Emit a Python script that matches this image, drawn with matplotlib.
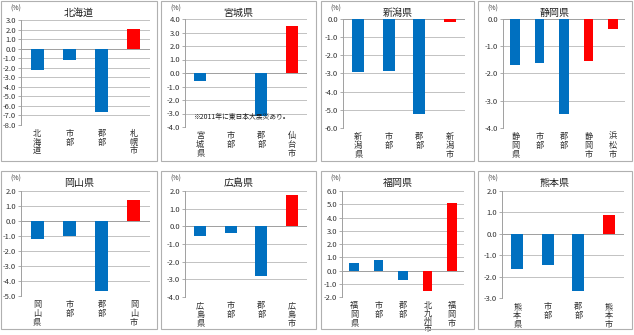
import numpy as np
import matplotlib.pyplot as plt
from matplotlib.patches import Rectangle
from matplotlib.transforms import blended_transform_factory

plt.rcParams['font.family'] = ['Noto Sans CJK JP', 'DejaVu Sans']

# Population change by area (%)
titles = ['北海道', '宮城県', '新潟県', '静岡県', '岡山県', '広島県', '福岡県', '熊本県']
categories = [
    ['北海道', '市部', '郡部', '札幌市'],
    ['宮城県', '市部', '郡部', '仙台市'],
    ['新潟県', '市部', '郡部', '新潟市'],
    ['静岡県', '市部', '郡部', '静岡市', '浜松市'],
    ['岡山県', '市部', '郡部', '岡山市'],
    ['広島県', '市部', '郡部', '広島市'],
    ['福岡県', '市部', '郡部', '北九州市', '福岡市'],
    ['熊本県', '市部', '郡部', '熊本市'],
]
values = [
    [-2.2, -1.2, -6.6, 2.1],
    [-0.6, 0.0, -3.2, 3.5],
    [-2.9, -2.85, -5.25, -0.15],
    [-1.7, -1.6, -3.5, -1.55, -0.35],
    [-1.2, -1.0, -4.65, 1.4],
    [-0.55, -0.4, -2.8, 1.75],
    [0.55, 0.8, -0.7, -1.55, 5.1],
    [-1.65, -1.45, -2.65, 0.9],
]
y_ranges = [(-8, 3), (-4, 4), (-6, 0), (-4, 0), (-5, 2), (-4, 2), (-2, 6), (-3, 2)]
note = '※2011年に東日本大震災あり。'

W, H = 634, 335
BLUE = '#0070C0'
RED = '#FF0000'
GRID = '#b8b8b8'

# panel frames and plot areas in pixels (left, top, right, bottom)
frames = [(1, 1, 157, 161), (161, 1, 316, 161), (321, 1, 474, 161), (478, 1, 632, 161),
          (1, 171, 157, 329), (161, 171, 316, 329), (321, 171, 474, 329), (478, 171, 632, 329)]
areas = [(21, 20, 150, 125), (185, 19, 307, 127), (343, 19, 465, 128), (503, 19, 625, 128),
         (21, 191, 150, 296), (185, 191, 307, 297), (342, 191, 464, 297), (502, 191, 624, 298)]

fig = plt.figure(figsize=(W / 100, H / 100), dpi=100)
fig.patch.set_facecolor('white')

def to_fig(box):
    l, t, r, b = box
    return [l / W, 1 - b / H, (r - l) / W, (b - t) / H]

for k in range(8):
    fl, ft, fr, fb = frames[k]
    fig.patches.append(Rectangle((fl / W, 1 - fb / H), (fr - fl) / W, (fb - ft) / H,
                                 transform=fig.transFigure, fill=False,
                                 edgecolor='#b0b0b0', lw=0.8))

    ax = fig.add_axes(to_fig(areas[k]))
    cats = categories[k]
    vals = values[k]
    x = np.arange(len(cats))
    colors = [RED if c.endswith('市') and c != '市部' else BLUE for c in cats]
    ax.bar(x, vals, width=0.4, color=colors, zorder=3)

    lo, hi = y_ranges[k]
    ax.set_ylim(lo, hi)
    ax.set_xlim(-0.5, len(cats) - 0.5)
    ticks = np.arange(lo, hi + 0.5, 1)
    ax.set_yticks(ticks)
    ax.set_yticklabels([f'{t:.1f}' for t in ticks])
    ax.tick_params(axis='y', labelsize=5.5, length=2, width=0.6, color='#a0a0a0',
                   pad=1.5, labelcolor='#303030')
    ax.set_xticks([])
    ax.grid(axis='y', color=GRID, lw=0.6, zorder=0)
    for s in ['top', 'right', 'bottom']:
        ax.spines[s].set_visible(False)
    ax.spines['left'].set_color('#a0a0a0')
    ax.spines['left'].set_linewidth(0.7)
    ax.axhline(0, color='#a0a0a0', lw=0.7, zorder=2)

    # vertical category labels, four-character names packed tighter
    tr = blended_transform_factory(ax.transData, ax.transAxes)
    for i, c in enumerate(cats):
        ls = 0.8 if len(c) > 3 else 0.95
        ax.text(i, -0.04, '\n'.join(c), transform=tr, ha='center', va='top',
                fontsize=5.9, linespacing=ls, color='#303030')

    fig.text((fl + fr) / 2 / W, 1 - (ft + 12) / H, titles[k], ha='center', va='center',
             fontsize=7.2, color='#202020')
    fig.text((fl + 9) / W, 1 - (ft + 8) / H, '(%)', ha='left', va='center',
             fontsize=5, color='#404040')

    if k == 1:
        ax.text(0.07, 0.095, note, transform=ax.transAxes, ha='left', va='center',
                fontsize=4.9, color='#202020', zorder=5)

fig.savefig('out.png', dpi=100)
